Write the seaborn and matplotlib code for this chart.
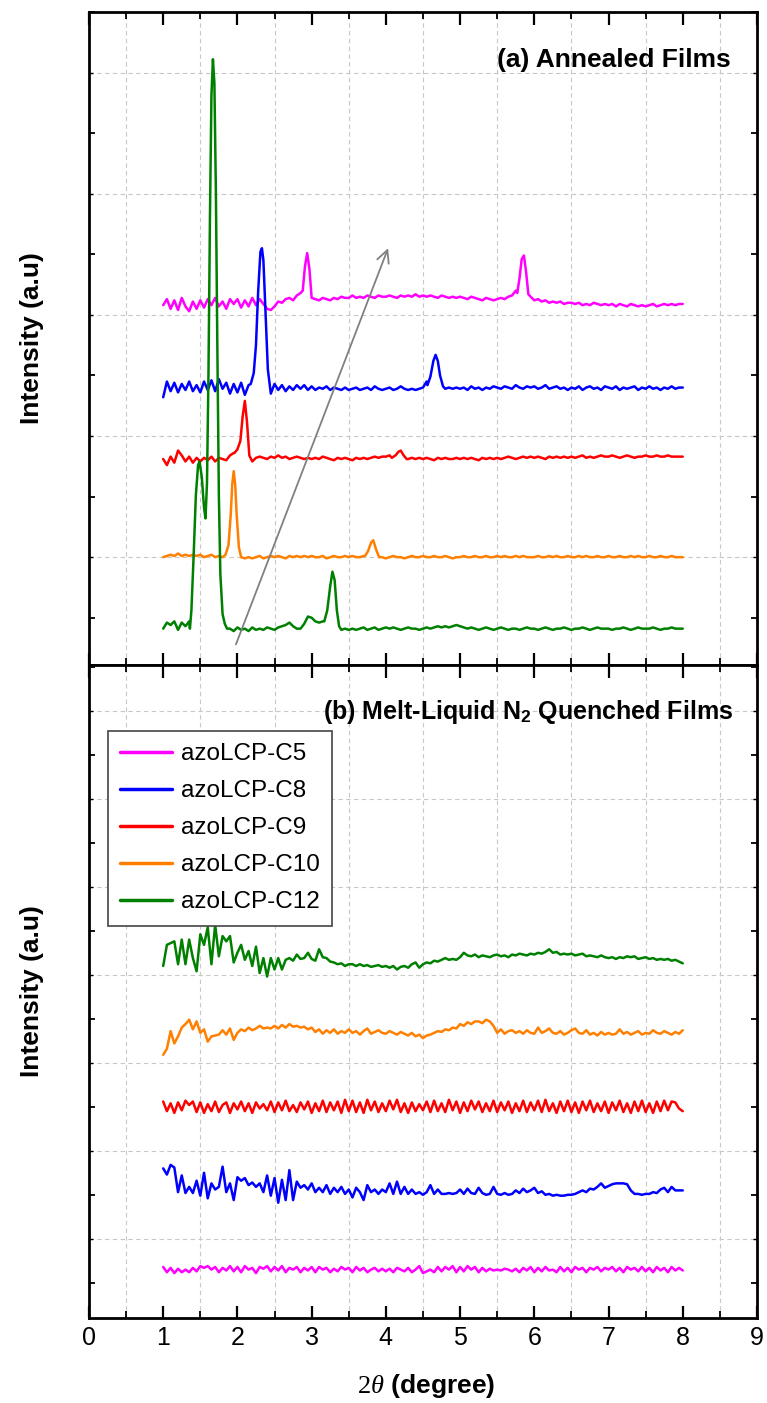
import numpy as np
import matplotlib.pyplot as plt
import seaborn as sns
from matplotlib.ticker import MultipleLocator

sns.set_theme(style='ticks')
plt.rcParams['font.family'] = ['Liberation Sans', 'DejaVu Sans']
plt.rcParams['mathtext.fontset'] = 'custom'
plt.rcParams['mathtext.rm'] = 'Liberation Serif'
plt.rcParams['mathtext.it'] = 'Liberation Serif:italic'
plt.rcParams['mathtext.bf'] = 'Liberation Sans:bold'
plt.rcParams['text.color'] = 'black'
plt.rcParams['axes.labelcolor'] = 'black'
plt.rcParams['xtick.color'] = 'black'
plt.rcParams['ytick.color'] = 'black'

names = ['azoLCP-C5', 'azoLCP-C8', 'azoLCP-C9', 'azoLCP-C10', 'azoLCP-C12']
colors = ['#ff00ff', '#0000ff', '#ff0000', '#ff8000', '#008000']

# 2theta grid, 1 to 8 degree every 0.05
two_theta = np.round(np.arange(1.0, 8.0001, 0.05), 2)

# ---- (a) annealed films: intensity above each baseline (a.u.) ----
c5_a = [-0.02, 0.03, -0.05, 0.02, -0.06, 0.04, -0.03, -0.07, 0.01, -0.05,
        0.02, -0.04, 0.03, -0.02, 0.04, -0.03, 0.01, -0.05, 0.03, -0.01,
        0.03, -0.04, 0.02, -0.03, 0.04, -0.02, 0.03, -0.01, -0.05, -0.06,
        -0.03, 0.01, 0.0, 0.03, 0.04, 0.02, 0.06, 0.08, 0.3, 0.4,
        0.04, 0.03, 0.02, 0.04, 0.03, 0.02, 0.04, 0.03, 0.05, 0.04,
        0.04, 0.06, 0.04, 0.05, 0.04, 0.06, 0.05, 0.04, 0.06, 0.05,
        0.05, 0.06, 0.05, 0.04, 0.06, 0.05, 0.06, 0.05, 0.07, 0.05,
        0.06, 0.05, 0.06, 0.05, 0.04, 0.06, 0.05, 0.04, 0.05, 0.04,
        0.05, 0.04, 0.03, 0.05, 0.04, 0.03, 0.02, 0.04, 0.03, 0.02,
        0.03, 0.04, 0.03, 0.05, 0.06, 0.1, 0.3, 0.39, 0.2, 0.05,
        0.02, 0.03, 0.01, 0.02, 0.0, 0.01, 0.0, 0.01, -0.01, 0.0,
        0.0, -0.01, 0.0, -0.02, -0.01, -0.02, 0.0, -0.01, -0.02, -0.01,
        -0.02, -0.01, -0.03, -0.01, -0.02, -0.03, -0.01, -0.02, -0.03, -0.02,
        -0.03, -0.02, -0.01, -0.03, -0.02, -0.01, -0.02, -0.01, -0.02, -0.01,
        -0.01]
c5_a_peaks = [([2.88, 2.91, 2.94, 2.97, 3.0], [0.1, 0.3, 0.41, 0.28, 0.04]),
              ([5.77, 5.80, 5.83, 5.86, 5.89, 5.92], [0.08, 0.2, 0.36, 0.39, 0.25, 0.07])]

c8_a = [-0.08, 0.05, -0.03, 0.04, -0.04, 0.03, -0.02, 0.05, -0.03, 0.02,
        -0.04, 0.05, -0.02, 0.06, -0.03, 0.07, -0.01, 0.04, -0.05, 0.03,
        -0.04, 0.04, -0.06, 0.02, 0.1, 0.6, 1.1, 0.6, 0.0, -0.05,
        0.03, -0.02, 0.02, -0.03, 0.01, -0.02, 0.02, -0.01, 0.02, -0.02,
        0.01, -0.02, 0.0, -0.01, 0.01, -0.02, 0.0, -0.01, -0.02, 0.0,
        -0.02, -0.01, 0.0, -0.02, -0.01, 0.0, -0.02, 0.01, -0.01, -0.02,
        -0.01, 0.0, -0.02, -0.01, 0.01, -0.01, -0.02, -0.01, -0.02, -0.01,
        0.0, 0.05, 0.2, 0.27, 0.12, 0.01, -0.01, 0.0, -0.01, 0.0,
        -0.01, 0.0, -0.02, 0.01, -0.01, 0.0, -0.02, 0.0, -0.01, 0.01,
        0.0, -0.01, 0.01, 0.0, -0.01, 0.02, 0.0, -0.01, 0.01, 0.0,
        0.01, -0.01, 0.0, 0.02, -0.01, 0.0, 0.01, -0.01, 0.0, -0.02,
        0.0, -0.01, 0.01, -0.02, 0.0, 0.01, -0.01, 0.0, -0.02, 0.01,
        0.0, -0.01, 0.01, -0.02, 0.0, -0.01, 0.0, 0.01, -0.02, 0.0,
        -0.01, 0.01, -0.01, 0.0, -0.02, 0.0, -0.01, 0.01, -0.01, 0.0,
        0.0]
c8_a_peaks = [([2.18, 2.22, 2.25, 2.28, 2.31, 2.33, 2.35, 2.38, 2.41, 2.44],
               [0.03, 0.12, 0.35, 0.8, 1.12, 1.15, 1.05, 0.6, 0.15, 0.0]),
              ([4.56, 4.60, 4.64, 4.67, 4.70, 4.73, 4.77],
               [0.02, 0.09, 0.22, 0.27, 0.22, 0.1, 0.01])]

c9_a = [0.0, -0.05, 0.02, -0.03, 0.07, 0.03, -0.02, 0.02, -0.03, 0.01,
        -0.02, 0.01, -0.01, 0.02, -0.02, 0.01, 0.0, -0.01, 0.03, 0.05,
        0.1, 0.4, 0.3, -0.02, 0.0, 0.01, 0.02, 0.01, 0.0, 0.02,
        0.01, 0.03, 0.01, 0.02, 0.0, 0.01, 0.02, 0.01, 0.0, 0.01,
        0.0, 0.01, 0.0, 0.02, 0.01, 0.0, -0.01, 0.01, 0.0, 0.01,
        0.0, -0.01, 0.01, 0.0, 0.01, 0.0, 0.01, 0.02, 0.01, 0.02,
        0.02, 0.03, 0.05, 0.07, 0.03, 0.01, 0.0, 0.01, 0.0, 0.01,
        0.0, 0.01, 0.0, -0.01, 0.01, 0.0, 0.01, 0.0, 0.0, 0.01,
        0.0, 0.01, 0.0, 0.01, 0.0, -0.01, 0.01, 0.0, 0.01, 0.0,
        0.01, 0.0, 0.01, 0.02, 0.01, 0.0, 0.01, 0.02, 0.01, 0.02,
        0.01, 0.02, 0.01, 0.0, 0.02, 0.01, 0.02, 0.01, 0.02, 0.01,
        0.02, 0.01, 0.02, 0.03, 0.01, 0.02, 0.01, 0.02, 0.03, 0.02,
        0.02, 0.03, 0.02, 0.01, 0.02, 0.03, 0.02, 0.01, 0.02, 0.02,
        0.03, 0.02, 0.02, 0.03, 0.02, 0.02, 0.03, 0.02, 0.02, 0.02,
        0.02]
c9_a_peaks = [([1.96, 2.0, 2.04, 2.07, 2.10, 2.13, 2.16, 2.2],
               [0.05, 0.08, 0.15, 0.35, 0.48, 0.3, 0.03, -0.02]),
              ([4.08, 4.13, 4.17, 4.20, 4.24, 4.28],
               [0.01, 0.03, 0.06, 0.07, 0.03, 0.0])]

c10_a = [0.0, 0.01, 0.02, 0.01, 0.03, 0.01, 0.02, 0.01, 0.02, 0.01,
         0.02, 0.0, 0.01, 0.02, 0.0, 0.01, 0.0, 0.02, 0.1, 0.65,
         0.2, 0.0, -0.01, 0.0, -0.01, 0.0, 0.01, -0.01, 0.0, 0.01,
         0.0, 0.01, 0.0, -0.01, 0.01, 0.0, 0.01, 0.0, 0.01, 0.0,
         0.01, 0.0, 0.0, 0.01, -0.01, 0.0, 0.01, 0.0, 0.0, 0.01,
         0.0, 0.01, 0.0, 0.0, 0.01, 0.05, 0.13, 0.06, 0.0, 0.0,
         -0.01, 0.0, 0.01, 0.0, 0.0, -0.01, 0.0, 0.01, 0.0, 0.0,
         0.01, 0.0, 0.0, 0.01, 0.0, 0.0, 0.01, 0.0, -0.01, 0.0,
         0.0, 0.01, 0.0, 0.0, 0.01, 0.0, 0.0, 0.01, 0.0, 0.0,
         0.01, 0.0, 0.01, 0.0, 0.0, 0.01, 0.0, 0.01, 0.0, 0.0,
         0.0, 0.01, 0.0, 0.0, 0.01, 0.0, 0.01, 0.0, 0.0, 0.01,
         0.0, 0.0, 0.01, 0.0, 0.01, 0.0, 0.0, 0.01, 0.0, 0.0,
         0.01, 0.0, 0.0, 0.01, 0.0, 0.0, 0.01, 0.0, 0.01, 0.0,
         0.0, 0.01, 0.0, 0.0, 0.01, 0.0, 0.0, 0.01, 0.0, 0.0,
         0.0]
c10_a_peaks = [([1.84, 1.88, 1.91, 1.93, 1.95, 1.97, 1.99, 2.02, 2.05],
                [0.02, 0.1, 0.35, 0.6, 0.71, 0.6, 0.35, 0.08, 0.0]),
               ([3.72, 3.76, 3.80, 3.83, 3.87, 3.91],
                [0.01, 0.05, 0.12, 0.14, 0.06, 0.0])]

c12_a = [0.0, 0.05, 0.03, 0.06, -0.01, 0.05, 0.02, 0.06, 0.6, 1.3,
         1.3, 0.95, 3.0, 4.6, 3.0, 0.6, 0.1, 0.03, 0.0, -0.02,
         0.01, -0.01, 0.0, -0.02, 0.01, -0.01, 0.0, -0.01, 0.01, 0.0,
         -0.01, 0.01, 0.02, 0.03, 0.05, 0.02, 0.0, 0.0, 0.04, 0.1,
         0.09, 0.06, 0.05, 0.06, 0.15, 0.45, 0.3, 0.02, -0.01, 0.0,
         -0.01, 0.0, -0.01, 0.0, 0.01, -0.01, 0.0, 0.01, -0.01, 0.0,
         0.01, 0.0, 0.01, 0.0, -0.01, 0.0, 0.01, 0.0, 0.0, -0.01,
         0.0, 0.01, 0.0, 0.01, 0.02, 0.01, 0.02, 0.01, 0.02, 0.03,
         0.02, 0.01, 0.0, 0.01, 0.0, -0.01, 0.0, 0.01, 0.0, -0.01,
         0.0, 0.01, 0.0, -0.01, 0.0, 0.0, -0.01, 0.0, 0.01, 0.0,
         0.0, -0.01, 0.0, 0.01, 0.0, -0.01, 0.0, 0.0, 0.01, 0.0,
         -0.01, 0.0, 0.0, 0.01, 0.0, -0.01, 0.0, 0.01, 0.0, 0.0,
         0.0, -0.01, 0.0, 0.0, 0.01, 0.0, -0.01, 0.0, 0.01, 0.0,
         0.0, 0.0, 0.01, 0.0, -0.01, 0.0, 0.0, 0.01, 0.0, 0.0,
         0.0]
c12_a_peaks = [([1.36, 1.38, 1.41, 1.44, 1.47, 1.49, 1.52, 1.55, 1.57, 1.59, 1.61,
                 1.63, 1.65, 1.67, 1.69, 1.71, 1.73, 1.75, 1.77, 1.80, 1.83, 1.86],
                [0.0, 0.15, 0.6, 1.1, 1.35, 1.38, 1.25, 1.0, 0.91, 1.2, 2.1,
                 3.4, 4.4, 4.7, 4.5, 3.6, 2.3, 1.1, 0.45, 0.12, 0.04, 0.0]),
               ([3.17, 3.21, 3.25, 3.28, 3.31, 3.34, 3.37, 3.40],
                [0.06, 0.15, 0.35, 0.47, 0.4, 0.15, 0.02, -0.01])]

# ---- (b) melt-liquid N2 quenched films ----
c5_b = [0.03, -0.03, 0.02, -0.04, 0.01, -0.03, 0.0, -0.03, 0.02, -0.02,
        0.04, 0.02, 0.04, 0.0, 0.03, -0.03, 0.02, -0.01, 0.04, -0.02,
        0.03, -0.03, 0.04, 0.0, 0.02, -0.04, 0.03, 0.01, 0.04, -0.02,
        0.03, -0.01, 0.04, -0.03, 0.02, 0.0, 0.03, -0.03, 0.02, -0.01,
        0.03, -0.03, 0.03, 0.0, 0.02, -0.03, 0.01, -0.02, 0.03, 0.0,
        0.02, -0.03, 0.03, -0.01, 0.02, -0.03, 0.0, 0.02, -0.02, 0.01,
        -0.02, 0.01, -0.03, 0.02, 0.0, -0.02, 0.02, -0.03, 0.0, 0.04,
        -0.04, -0.02, 0.0, -0.03, 0.03, -0.02, 0.03, 0.0, 0.04, -0.03,
        0.03, -0.02, 0.04, 0.0, 0.03, -0.03, 0.02, -0.02, 0.01, -0.01,
        0.0, -0.01, 0.01, 0.0, -0.02, 0.01, -0.03, 0.02, -0.01, 0.03,
        -0.03, 0.02, -0.02, 0.03, -0.01, 0.0, -0.03, 0.03, -0.02, 0.02,
        -0.03, 0.03, 0.0, 0.02, -0.03, 0.02, 0.0, 0.03, -0.02, 0.02,
        0.0, 0.03, -0.02, 0.02, -0.03, 0.03, 0.0, 0.02, -0.02, 0.03,
        -0.02, 0.02, -0.03, 0.03, -0.01, 0.02, -0.03, 0.03, -0.01, 0.02,
        -0.01]

c8_b = [0.27, 0.2, 0.31, 0.28, 0.0, 0.19, -0.01, 0.06, -0.01, 0.13,
        -0.04, 0.22, -0.07, 0.1, 0.03, 0.06, 0.29, 0.0, 0.1, -0.09,
        0.17, 0.13, 0.16, 0.08, 0.11, 0.06, 0.1, 0.0, 0.19, -0.04,
        0.16, -0.12, 0.14, -0.09, 0.25, -0.09, 0.12, 0.05, 0.08, 0.03,
        0.1, 0.0, 0.05, 0.0, 0.08, -0.02, 0.05, 0.0, 0.06, -0.02,
        0.03, -0.06, 0.05, 0.0, -0.09, 0.08, 0.0, 0.03, -0.02, 0.03,
        0.0, 0.1, -0.02, 0.12, -0.02, 0.06, -0.02, 0.03, -0.02, 0.0,
        -0.03, 0.0, 0.08, -0.02, 0.03, -0.02, -0.02, -0.01, -0.02, -0.01,
        0.03, -0.02, 0.04, -0.01, -0.02, 0.05, -0.01, -0.03, -0.02, 0.06,
        -0.02, -0.03, -0.01, -0.03, -0.02, 0.02, -0.01, 0.04, 0.0, 0.02,
        0.05, -0.01, 0.01, -0.03, -0.02, -0.04, -0.03, -0.04, -0.04, -0.03,
        -0.03, -0.02, 0.0, 0.02, 0.0, 0.04, 0.03, 0.06, 0.1, 0.05,
        0.07, 0.09, 0.1, 0.1, 0.1, 0.09, 0.02, -0.02, -0.02, -0.03,
        -0.02, -0.02, 0.0, -0.01, 0.03, 0.05, 0.0, 0.06, 0.02, 0.02,
        0.02]

c9_b = [0.06, -0.05, 0.04, -0.07, 0.05, -0.04, 0.07, 0.02, 0.06, -0.06,
        0.05, -0.07, 0.03, -0.05, 0.06, -0.06, 0.02, 0.05, -0.07, 0.04,
        -0.03, 0.06, -0.05, 0.04, -0.07, 0.05, -0.02, 0.03, -0.04, 0.06,
        -0.06, 0.05, -0.04, 0.07, -0.05, 0.02, -0.06, 0.05, -0.03, 0.06,
        -0.07, 0.04, -0.05, 0.07, -0.06, 0.05, -0.04, 0.06, -0.07, 0.08,
        -0.05, 0.07, -0.06, 0.05, -0.07, 0.08, -0.04, 0.06, -0.06, 0.04,
        -0.05, 0.07, -0.03, 0.08, -0.06, 0.04, -0.07, 0.05, -0.05, 0.03,
        -0.04, 0.06, -0.06, 0.07, -0.05, 0.04, -0.06, 0.08, -0.04, 0.06,
        -0.07, 0.05, -0.05, 0.07, -0.03, 0.06, -0.06, 0.04, -0.05, 0.07,
        -0.06, 0.05, -0.04, 0.06, -0.07, 0.04, -0.05, 0.07, -0.06, 0.05,
        -0.04, 0.07, -0.06, 0.08, -0.05, 0.04, -0.07, 0.06, -0.05, 0.07,
        -0.06, 0.05, -0.07, 0.06, -0.04, 0.07, -0.06, 0.04, -0.05, 0.06,
        -0.07, 0.05, -0.04, 0.07, -0.06, 0.04, -0.07, 0.06, -0.05, 0.07,
        -0.06, 0.04, -0.07, 0.06, -0.05, 0.07, -0.04, 0.06, 0.05, -0.02,
        -0.05]

c10_b = [-0.25, -0.18, 0.02, -0.12, -0.04, 0.06, 0.1, 0.15, 0.04, 0.13,
         0.0, 0.04, -0.1, -0.04, -0.03, -0.02, 0.03, -0.02, 0.05, -0.08,
         0.0, 0.04, 0.02, 0.06, 0.03, 0.05, 0.08, 0.05, 0.06, 0.05,
         0.08, 0.05, 0.09, 0.06, 0.1, 0.07, 0.08, 0.06, 0.07, 0.04,
         0.06, 0.01, 0.04, -0.01, 0.03, 0.0, 0.04, -0.01, 0.02, 0.0,
         0.04, 0.0, 0.02, -0.02, 0.02, 0.05, -0.01, 0.01, 0.03, 0.0,
         -0.01, 0.02, 0.0, -0.02, 0.01, -0.01, -0.03, 0.0, -0.04, -0.02,
         -0.06, -0.03, -0.02, 0.0, 0.02, 0.01, 0.04, 0.03, 0.06, 0.05,
         0.1, 0.08, 0.12, 0.1, 0.13, 0.13, 0.11, 0.15, 0.13, 0.08,
         0.0, 0.04, -0.01, 0.02, 0.03, 0.0, 0.02, -0.01, 0.03, 0.0,
         -0.01, 0.06, 0.0, 0.02, 0.05, 0.0, -0.01, 0.02, -0.02, 0.0,
         0.03, 0.05, 0.0, -0.01, 0.03, -0.02, 0.0, -0.03, 0.01, -0.02,
         0.0, -0.02, -0.01, 0.04, -0.01, 0.01, -0.02, 0.0, 0.02, -0.02,
         0.0, -0.01, 0.03, 0.0, -0.01, 0.02, 0.0, -0.02, 0.01, -0.01,
         0.03]

c12_b = [-0.04, 0.2, 0.22, 0.24, -0.02, 0.26, -0.02, 0.26, 0.05, -0.1,
         0.32, 0.2, 0.4, -0.02, 0.43, 0.07, 0.3, 0.24, 0.3, 0.0,
         0.11, 0.2, 0.03, 0.13, -0.04, 0.18, -0.12, 0.05, -0.16, 0.05,
         -0.08, 0.05, -0.08, 0.03, 0.05, 0.02, 0.09, 0.04, 0.05, 0.11,
         0.04, 0.02, 0.15, 0.06, 0.05, 0.01, 0.0, -0.02, -0.01, -0.04,
         -0.02, -0.02, -0.04, -0.02, -0.04, -0.03, -0.05, -0.04, -0.03, -0.05,
         -0.04, -0.06, -0.04, -0.08, -0.05, -0.04, -0.06, -0.02, 0.0, -0.06,
         -0.02, 0.0, -0.01, 0.02, 0.01, 0.03, 0.05, 0.03, 0.04, 0.03,
         0.06, 0.11, 0.08, 0.07, 0.09, 0.06, 0.08, 0.07, 0.06, 0.08,
         0.09, 0.07, 0.08, 0.06, 0.09, 0.08, 0.1, 0.09, 0.08, 0.1,
         0.09, 0.11, 0.1, 0.12, 0.15, 0.11, 0.12, 0.09, 0.1, 0.09,
         0.1, 0.08, 0.09, 0.1, 0.07, 0.08, 0.07, 0.06, 0.08, 0.06,
         0.05, 0.06, 0.04, 0.06, 0.05, 0.07, 0.06, 0.07, 0.04, 0.05,
         0.06, 0.04, 0.05, 0.03, 0.04, 0.03, 0.04, 0.02, 0.03, 0.01,
         -0.01]

# vertical stacking offsets of the traces
offsets_a = [2.6, 1.9, 1.31, 0.5, -0.09]
offsets_b = [0.15, 1.03, 2.0, 2.84, 3.64]

traces_a = [(c5_a, c5_a_peaks), (c8_a, c8_a_peaks), (c9_a, c9_a_peaks),
            (c10_a, c10_a_peaks), (c12_a, c12_a_peaks)]
traces_b = [c5_b, c8_b, c9_b, c10_b, c12_b]

arrow_start = (1.98, -0.22)
arrow_end = (4.03, 3.05)


def with_peaks(base, peaks):
    x = two_theta.copy()
    y = np.array(base, dtype=float)
    for px, py in peaks:
        keep = (x < min(px)) | (x > max(px))
        x = np.concatenate([x[keep], px])
        y = np.concatenate([y[keep], py])
        order = np.argsort(x)
        x, y = x[order], y[order]
    return x, y


fig = plt.figure(figsize=(7.67, 14.03), dpi=100)
ax_a = fig.add_axes([0.1160, 0.52602, 0.87093, 0.46543])
ax_b = fig.add_axes([0.1160, 0.06058, 0.87093, 0.46543])

lw = 1.8
for (base, peaks), off, c in zip(traces_a, offsets_a, colors):
    x, y = with_peaks(base, peaks)
    sns.lineplot(x=x, y=y + off, ax=ax_a, color=c, linewidth=lw,
                 estimator=None, sort=False, legend=False)

for base, off, c, name in zip(traces_b, offsets_b, colors, names):
    sns.lineplot(x=two_theta, y=np.array(base) + off, ax=ax_b, color=c,
                 linewidth=lw, estimator=None, sort=False, label=name)

ax_a.annotate('', xy=arrow_end, xytext=arrow_start,
              arrowprops=dict(arrowstyle='->', color='#808080', lw=1.3,
                              mutation_scale=22, shrinkA=0, shrinkB=0))

ax_a.set_ylim(-0.39, 5.0)
ax_b.set_ylim(-0.4, 7.02)

for ax in (ax_a, ax_b):
    ax.set_xlim(0, 9)
    ax.xaxis.set_major_locator(MultipleLocator(1))
    ax.xaxis.set_minor_locator(MultipleLocator(0.5))
    ax.yaxis.set_major_locator(MultipleLocator(1))
    ax.yaxis.set_minor_locator(MultipleLocator(0.5))
    ax.grid(False, which='major')
    ax.grid(True, which='minor', linestyle=(0, (4, 3)), color='#c8c8c8', linewidth=0.8)
    ax.tick_params(axis='x', which='major', direction='in', length=9, width=1.6,
                   top=True, bottom=True, color='black')
    ax.tick_params(axis='x', which='minor', direction='in', length=5, width=1.3,
                   top=True, bottom=True, color='black')
    ax.tick_params(axis='y', which='major', direction='in', length=4, width=1.3,
                   left=True, right=True, labelleft=False, color='black')
    ax.tick_params(axis='y', which='minor', direction='in', length=3, width=1.0,
                   left=True, right=True, color='black')
    for s in ax.spines.values():
        s.set_linewidth(2.0)
        s.set_color('black')
    ax.set_ylabel('Intensity (a.u)', fontsize=19, fontweight='bold')
    ax.yaxis.set_label_coords(-0.068, 0.5)

ax_a.tick_params(axis='x', which='both', labelbottom=False)
ax_b.tick_params(axis='x', which='major', labelsize=18, pad=6, labelcolor='black')
ax_a.set_xlabel('')
ax_b.set_xlabel(r'$2\theta$ (degree)', fontsize=19, fontweight='bold')
ax_b.xaxis.set_label_coords(0.505, -0.082)

ax_a.text(0.96, 0.9265, '(a) Annealed Films', transform=ax_a.transAxes,
          ha='right', va='center', fontsize=19, fontweight='bold')
ax_b.text(0.964, 0.928, r'(b) Melt-Liquid N$_\mathbf{2}$ Quenched Films',
          transform=ax_b.transAxes, ha='right', va='center', fontsize=18,
          fontweight='bold')

leg = ax_b.legend(loc='upper left', bbox_to_anchor=(0.028, 0.899), borderaxespad=0,
                  fontsize=17.5, frameon=True, fancybox=False, framealpha=1,
                  edgecolor='#444444', handlelength=2.15, handletextpad=0.35,
                  labelspacing=0.62, borderpad=0.5)
leg.get_frame().set_linewidth(1.2)
for h in leg.get_lines():
    h.set_linewidth(2.5)
for t in leg.get_texts():
    t.set_color('black')

fig.savefig('out.png', dpi=100)
